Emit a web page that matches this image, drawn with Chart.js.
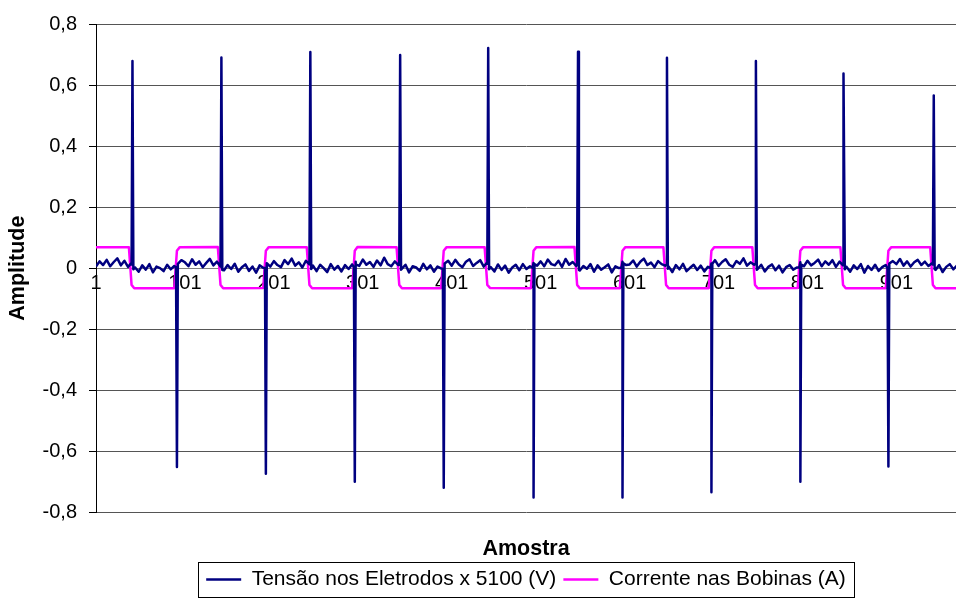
<!DOCTYPE html>
<html>
<head>
<meta charset="utf-8">
<script src="https://cdn.jsdelivr.net/npm/chart.js@4.4.1/dist/chart.umd.min.js"></script>
<style>
  html, body { margin: 0; padding: 0; background: #fff; }
</style>
</head>
<body>
<canvas id="chart" width="956" height="612"></canvas>
<script>
// axis ticks
const xTickLabels = [1, 101, 201, 301, 401, 501, 601, 701, 801, 901];
const yTickValues = [-0.8, -0.6, -0.4, -0.2, 0, 0.2, 0.4, 0.6, 0.8];

// electrode voltage: background noise read every 4 samples from sample 1
const noiseStep = 4;
const voltageNoise = [
  0.005, 0.022, 0.01, 0.027, 0.006, 0.02, 0.032, 0.009, 0.024, 0.004, 0.017,
  0.002, -0.012, 0.009, -0.005, 0.013, -0.014, 0.005, 0.0, -0.01, 0.011, -0.004, 0.007,
  0.009, 0.026,
  0.019, 0.006, 0.029, 0.011, 0.022, 0.003, 0.017, 0.03, 0.009, 0.021, 0.005,
  -0.007, 0.01, -0.003, 0.014, -0.012, 0.003, 0.012, -0.009, 0.005, -0.015, 0.009, 0.001,
  0.016, 0.005,
  0.023, 0.01, 0.003, 0.026, 0.013, 0.031, 0.008, 0.019, 0.002, 0.024, 0.012,
  0.008, -0.01, 0.011, 0.0, -0.013, 0.013, -0.005, 0.007, -0.011, 0.01, -0.003, 0.012,
  0.021, 0.007,
  0.028, 0.011, 0.02, 0.004, 0.025, 0.009, 0.034, 0.013, 0.006, 0.022, 0.01,
  -0.005, 0.011, -0.014, 0.006, 0.002, -0.009, 0.014, -0.004, 0.009, -0.012, 0.005, -0.001,
  0.011, 0.024,
  0.008, 0.027, 0.012, 0.003, 0.021, 0.029, 0.007, 0.017, 0.026, 0.005, 0.019,
  0.003, -0.011, 0.012, -0.006, 0.008, -0.015, 0.002, 0.011, -0.007, 0.013, -0.003, 0.006,
  0.017, 0.008,
  0.022, 0.006, 0.028, 0.013, 0.009, 0.024, 0.004, 0.03, 0.011, 0.02, 0.007,
  -0.008, 0.007, -0.002, 0.013, -0.012, 0.009, -0.005, 0.003, 0.012, -0.014, 0.006, 0.0,
  0.021, 0.01,
  0.012, 0.025, 0.005, 0.021, 0.031, 0.01, 0.018, 0.003, 0.023, 0.013, 0.008,
  0.005, -0.013, 0.01, -0.004, 0.014, -0.01, 0.001, 0.011, -0.006, 0.008, -0.011, 0.004,
  0.015, 0.026,
  0.007, 0.02, 0.029, 0.011, 0.004, 0.023, 0.014, 0.032, 0.008, 0.019, 0.011,
  -0.003, 0.011, -0.011, 0.004, 0.012, -0.007, 0.008, -0.014, 0.003, 0.01, -0.005, 0.002,
  0.019, 0.006,
  0.024, 0.009, 0.017, 0.028, 0.006, 0.022, 0.011, 0.026, 0.004, 0.021, 0.009,
  0.004, -0.012, 0.009, -0.003, 0.013, -0.015, 0.007, -0.006, 0.011, -0.009, 0.003, 0.01,
  0.01, 0.023,
  0.013, 0.03, 0.008, 0.022, 0.005, 0.019, 0.027, 0.01, 0.021, 0.007, 0.016,
  -0.006, 0.01, -0.013, 0.004, 0.013, -0.004, 0.008
];

// electrode voltage: spikes (sample before, peak, sample after)
const spikeX = [
  41, 42, 43, 91, 92, 93,
  141, 142, 143, 191, 192, 193,
  241, 242, 243, 291, 292, 293,
  342, 343, 344, 391, 392, 393,
  441, 442, 443, 492, 493, 494,
  542, 543, 544, 592, 593, 594,
  642, 643, 644, 692, 693, 694,
  742, 743, 744, 792, 793, 794,
  841, 842, 843, 891, 892, 893,
  942, 943, 944
];
const spikeY = [
  0.012, 0.679, -0.004, 0.002, -0.652, 0.014,
  0.01, 0.69, -0.006, 0.0, -0.674, 0.016,
  0.013, 0.708, -0.003, 0.003, -0.70, 0.012,
  0.011, 0.698, -0.005, -0.002, -0.72, 0.015,
  0.014, 0.721, -0.004, 0.001, -0.752, 0.013,
  0.012, 0.709, -0.006, 0.002, -0.752, 0.016,
  0.01, 0.689, -0.002, 0.0, -0.735, 0.014,
  0.013, 0.679, -0.005, 0.003, -0.70, 0.012,
  0.011, 0.638, -0.004, -0.001, -0.65, 0.015,
  0.012, 0.566, -0.003
];

// coil current: square wave corners
const currentX = [
  1,
  38, 41, 44, 89, 92, 95,
  138, 141, 144, 189, 192, 195,
  238, 241, 244, 289, 292, 295,
  339, 342, 345, 389, 392, 395,
  438, 441, 444, 490, 493, 496,
  539, 542, 545, 590, 593, 596,
  639, 642, 645, 690, 693, 696,
  739, 742, 745, 790, 793, 796,
  838, 841, 844, 889, 892, 895,
  939, 942, 945,
  968
];
const currentY = [
  0.068,
  0.068, -0.055, -0.066, -0.066, 0.057, 0.068,
  0.069, -0.055, -0.066, -0.065, 0.057, 0.068,
  0.068, -0.055, -0.066, -0.066, 0.057, 0.069,
  0.068, -0.055, -0.066, -0.066, 0.057, 0.068,
  0.068, -0.055, -0.065, -0.066, 0.057, 0.068,
  0.069, -0.055, -0.066, -0.066, 0.057, 0.068,
  0.068, -0.055, -0.066, -0.066, 0.057, 0.068,
  0.068, -0.055, -0.066, -0.065, 0.057, 0.068,
  0.068, -0.055, -0.066, -0.066, 0.057, 0.068,
  0.068, -0.055, -0.066,
  -0.066
];

const voltagePoints = voltageNoise
  .map((y, i) => ({ x: 1 + i * noiseStep, y }))
  .concat(spikeX.map((x, i) => ({ x, y: spikeY[i] })))
  .sort((a, b) => a.x - b.x);
const currentPoints = currentX.map((x, i) => ({ x, y: currentY[i] }));

function formatComma(v) {
  if (Math.abs(v) < 1e-9) return "0";
  return v.toFixed(1).replace(".", ",");
}

// Excel-like frame around the legend
const legendFrame = {
  id: "legendFrame",
  afterDraw(chart) {
    const boxes = chart.legend && chart.legend.legendHitBoxes;
    if (!boxes || !boxes.length) return;
    const first = boxes[0];
    const last = boxes[boxes.length - 1];
    const left = Math.round(first.left - 8) + 0.5;
    const right = Math.round(last.left + last.width + 8) + 0.5;
    const top = Math.round(first.top - 7) + 0.5;
    const bottom = Math.round(first.top + first.height + 7) + 0.5;
    const ctx = chart.ctx;
    ctx.save();
    ctx.strokeStyle = "#000";
    ctx.lineWidth = 1;
    ctx.strokeRect(left, top, right - left, bottom - top);
    ctx.restore();
  },
};

Chart.defaults.font.family = "'Liberation Sans', Arial, sans-serif";
Chart.defaults.color = "#000";

new Chart(document.getElementById("chart").getContext("2d"), {
  type: "line",
  data: {
    datasets: [
      {
        label: "Tensão nos Eletrodos x 5100 (V)",
        data: voltagePoints,
        borderColor: "#000080",
        backgroundColor: "#000080",
        borderWidth: 2.5,
      },
      {
        label: "Corrente nas Bobinas (A)",
        data: currentPoints,
        borderColor: "#FF00FF",
        backgroundColor: "#FF00FF",
        borderWidth: 2.5,
      },
    ],
  },
  options: {
    responsive: false,
    devicePixelRatio: 1,
    animation: false,
    events: [],
    elements: {
      point: { radius: 0 },
      line: { tension: 0, borderJoinStyle: "round" },
    },
    layout: { padding: { left: 0, right: 0, top: 21, bottom: 12 } },
    scales: {
      x: {
        type: "linear",
        min: 1,
        max: 968,
        position: { y: 0 },
        afterBuildTicks: (s) => {
          s.ticks = xTickLabels.map((v) => ({ value: v }));
        },
        ticks: {
          font: { size: 20 },
          padding: 3,
          maxRotation: 0,
          autoSkip: false,
          callback: (v) => String(v),
        },
        grid: { display: false, drawTicks: false },
        border: { color: "#808080" },
      },
      y: {
        min: -0.8,
        max: 0.8,
        afterBuildTicks: (s) => {
          s.ticks = yTickValues.map((v) => ({ value: v }));
        },
        afterFit: (s) => {
          s.width = 96;
        },
        ticks: {
          font: { size: 20 },
          padding: 12,
          callback: (v) => formatComma(v),
        },
        grid: { color: "#555", tickLength: 7, tickColor: "#000" },
        border: { color: "#000" },
        title: {
          display: true,
          text: "Amplitude",
          font: { size: 21.5, weight: "bold" },
          padding: { top: 5, bottom: 0 },
        },
      },
    },
    plugins: {
      title: {
        display: true,
        text: "Amostra",
        position: "bottom",
        weight: 500,
        fullSize: false,
        font: { size: 21.5, weight: "bold" },
        padding: { top: 24, bottom: 0 },
      },
      legend: {
        position: "bottom",
        fullSize: false,
        labels: {
          usePointStyle: true,
          pointStyle: "line",
          pointStyleWidth: 35,
          padding: 7,
          font: { size: 21 },
        },
      },
      tooltip: { enabled: false },
    },
  },
  plugins: [legendFrame],
});
</script>
</body>
</html>
